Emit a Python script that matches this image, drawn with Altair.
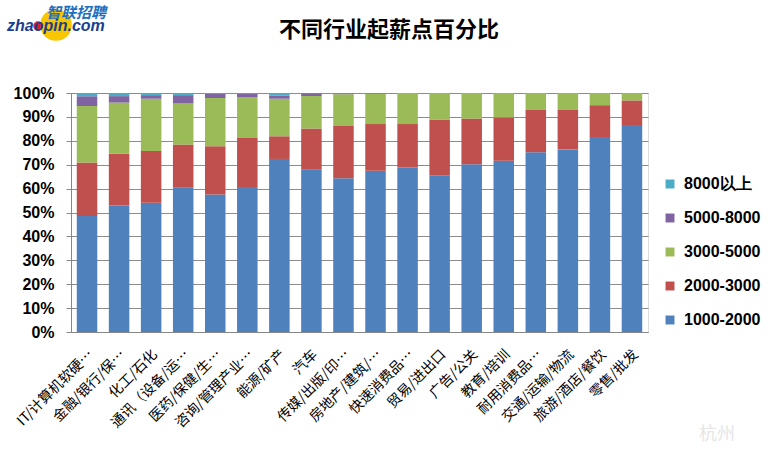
import altair as alt
import pandas as pd

categories = ["IT/计算机软硬…", "金融/银行/保…", "化工/石化", "通讯（设备/运…", "医药/保健/生…",
              "咨询/管理产业…", "能源/矿产", "汽车", "传媒/出版/印…", "房地产/建筑/…",
              "快速消费品…", "贸易/进出口", "广告/公关", "教育/培训", "耐用消费品…",
              "交通/运输/物流", "旅游/酒店/餐饮", "零售/批发"]
levels = ["1000-2000", "2000-3000", "3000-5000", "5000-8000", "8000以上"]
v_1000_2000 = [48.5, 52.9, 54.1, 60.4, 57.5, 60.7, 72.4, 67.9, 64.3, 67.5, 68.8, 65.6, 70.2, 71.7, 75.2, 76.4, 81.2, 86.6]
v_2000_3000 = [22.4, 21.7, 21.6, 18.0, 20.2, 20.5, 9.5, 17.2, 21.9, 19.5, 18.2, 23.3, 19.1, 18.1, 17.7, 16.5, 13.7, 10.3]
v_3000_5000 = [23.7, 21.4, 21.9, 17.2, 20.2, 17.1, 15.7, 13.6, 13.3, 12.6, 13.0, 11.1, 10.7, 10.2, 7.1, 7.1, 5.1, 3.1]
v_5000_8000 = [4.0, 2.7, 1.5, 3.5, 1.7, 1.4, 1.4, 1.2, 0.3, 0.2, 0, 0, 0, 0, 0, 0, 0, 0]
v_8000_up = [1.4, 1.3, 0.9, 0.9, 0.4, 0.3, 1.0, 0.1, 0.2, 0.2, 0, 0, 0, 0, 0, 0, 0, 0]
colors = ["#4F81BD", "#C0504D", "#9BBB59", "#8064A2", "#4BACC6"]
title_text = "不同行业起薪点百分比"

series = [v_1000_2000, v_2000_3000, v_3000_5000, v_5000_8000, v_8000_up]
rows = []
for li, (lvl, vals) in enumerate(zip(levels, series)):
    for ci, (cat, v) in enumerate(zip(categories, vals)):
        rows.append({"industry": cat, "level": lvl, "value": v / 100.0, "ord": li})
df = pd.DataFrame(rows)

font = "Noto Sans CJK SC"

bars = alt.Chart(df).mark_bar(stroke=None).encode(
    x=alt.X("industry:N", sort=categories,
            scale=alt.Scale(paddingInner=0.36, paddingOuter=0.18),
            axis=alt.Axis(title=None, labelAngle=315, labelAlign="right", labelBaseline="middle",
                          labelFont=font, labelFontSize=14, labelColor="#000000", labelLimit=300,
                          labelPadding=20, labelOffset=4, ticks=False, domainColor="#868686",
                          grid=False)),
    y=alt.Y("value:Q", stack="zero",
            scale=alt.Scale(domain=[0, 1], nice=False),
            axis=alt.Axis(title=None, values=[i / 10 for i in range(11)], format=".0%",
                          labelFont="Liberation Sans", labelFontWeight="bold", labelFontSize=16,
                          labelColor="#000000", gridColor="#8c8c8c", domainColor="#868686",
                          tickColor="#868686", tickSize=5, labelPadding=12)),
    color=alt.Color("level:N",
                    scale=alt.Scale(domain=levels[::-1], range=colors[::-1]),
                    legend=alt.Legend(title=None, orient="none", legendX=591, legendY=83,
                                      symbolType="square", symbolSize=80, symbolStrokeWidth=0,
                                      labelFont="Liberation Sans", labelFontWeight="bold",
                                      labelFontSize=16, labelColor="#000000", rowPadding=18,
                                      labelOffset=6)),
    order=alt.Order("ord:Q", sort="ascending"),
)

logo_df = pd.DataFrame({"t": ["智联招聘"], "u": ["zhaopin.com"], "h": [title_text]})
circle = alt.Chart(logo_df).mark_circle(color="#F7C600", opacity=1, size=1000).encode(
    x=alt.value(-15), y=alt.value(-68))
dot = alt.Chart(logo_df).mark_circle(color="#E02020", opacity=1, size=90).encode(
    x=alt.value(-33), y=alt.value(-67))
logo1 = alt.Chart(logo_df).mark_text(font=font, fontSize=15, fontWeight="bold", fontStyle="italic",
                                     color="#1E6FC0", align="left", baseline="middle").encode(
    x=alt.value(-25), y=alt.value(-80), text="t:N")
logo2 = alt.Chart(logo_df).mark_text(font="Liberation Sans", fontSize=16, fontWeight="bold",
                                     fontStyle="italic", color="#1A3E8C", align="left",
                                     baseline="middle").encode(
    x=alt.value(-64), y=alt.value(-67), text="u:N")
title = alt.Chart(logo_df).mark_text(font=font, fontSize=22, fontWeight="bold", color="#000000",
                                     align="center", baseline="middle").encode(
    x=alt.value(318), y=alt.value(-63), text="h:N")
wm = alt.Chart(pd.DataFrame({"w": ["杭州"]})).mark_text(font=font, fontSize=18, color="#e6e6e6",
                                                       align="left", baseline="middle").encode(
    x=alt.value(628), y=alt.value(342), text="w:N")

chart = alt.layer(circle, dot, logo1, logo2, title, wm, bars).properties(
    width=577, height=239,
    padding={"left": 71, "top": 93, "right": 132, "bottom": 122},
    autosize=alt.AutoSizeParams(type="none"),
).configure_view(stroke=None).configure(background="white")

chart.save("out.html", embed_options={"renderer": "svg", "actions": False})
